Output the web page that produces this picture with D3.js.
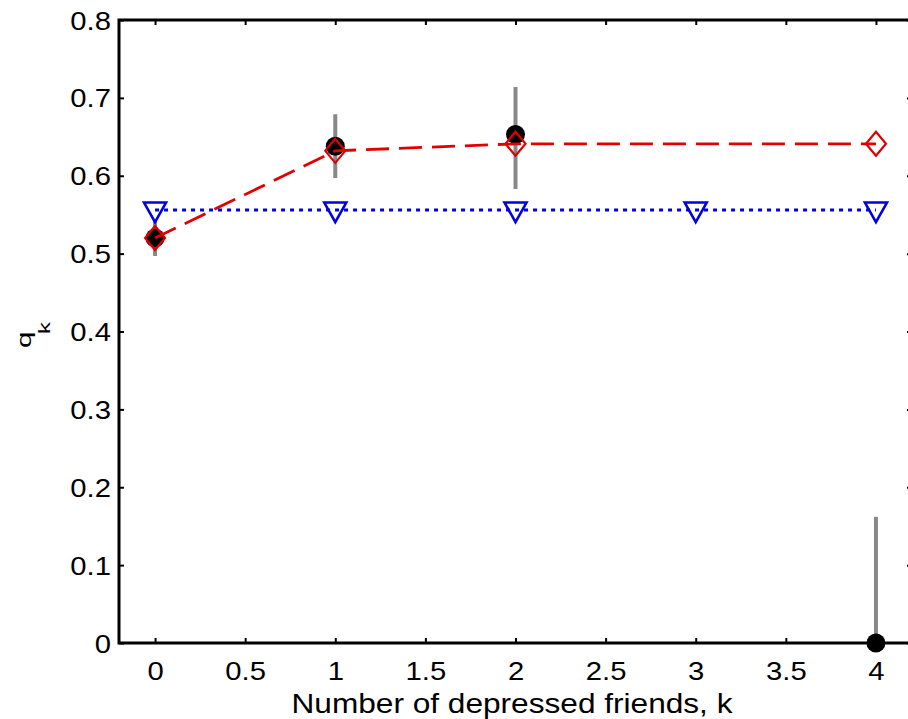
<!DOCTYPE html>
<html>
<head>
<meta charset="utf-8">
<script src="https://cdn.jsdelivr.net/npm/d3@7"></script>
<style>
  body { margin: 0; background: #fff; }
  svg { display: block; }
  text { font-family: "Liberation Sans", Arial, sans-serif; fill: #000; }
</style>
</head>
<body>
<svg id="chart" width="908" height="719"></svg>
<script>
// observed values with error bars
const obsK = [0, 1, 2, 4];
const obsQ = [0.52, 0.638, 0.653, 0.0];
const obsLo = [0.497, 0.597, 0.583, 0.0];
const obsHi = [0.542, 0.679, 0.714, 0.162];

// model fit (red diamonds)
const fitK = [0, 1, 2, 4];
const fitQ = [0.52, 0.632, 0.641, 0.641];

// null model (blue triangles)
const nullK = [0, 1, 2, 3, 4];
const nullQ = [0.556, 0.556, 0.556, 0.556, 0.556];

const xTicks = [0, 0.5, 1, 1.5, 2, 2.5, 3, 3.5, 4];
const yTicks = [0, 0.1, 0.2, 0.3, 0.4, 0.5, 0.6, 0.7, 0.8];

const plot = { left: 119, right: 912, top: 20, bottom: 643 };

const svg = d3.select("#chart");

const x = d3.scaleLinear().domain([-0.2, 4.2]).range([plot.left, plot.right]);
const y = d3.scaleLinear().domain([0, 0.8]).range([plot.bottom, plot.top]);

// the reference font is wider than Liberation Sans, stretch along the advance
function widen(sel, k) {
  sel.each(function () {
    const w = this.getComputedTextLength();
    d3.select(this).attr("textLength", w * k).attr("lengthAdjust", "spacingAndGlyphs");
  });
}

// axes: ticks point inward on all four sides
const fmt = d => d3.format("")(+d.toFixed(1));
const tick = 5;

const gBottom = svg.append("g").attr("transform", `translate(0,${plot.bottom})`)
  .call(d3.axisBottom(x).tickValues(xTicks).tickSize(-tick).tickFormat(fmt));
const gTop = svg.append("g").attr("transform", `translate(0,${plot.top})`)
  .call(d3.axisTop(x).tickValues(xTicks).tickSize(-tick).tickFormat(""));
const gLeft = svg.append("g").attr("transform", `translate(${plot.left},0)`)
  .call(d3.axisLeft(y).tickValues(yTicks).tickSize(-tick).tickFormat(fmt));
const gRight = svg.append("g").attr("transform", `translate(${plot.right},0)`)
  .call(d3.axisRight(y).tickValues(yTicks).tickSize(-tick).tickFormat(""));

[gBottom, gTop, gLeft, gRight].forEach(g => {
  g.select(".domain").remove();
  g.selectAll(".tick line").attr("stroke", "#000").attr("stroke-width", 2);
  g.selectAll(".tick text").attr("font-size", 25).attr("fill", "#111");
});
gBottom.selectAll(".tick text").attr("y", 37).attr("dy", 0);
gLeft.selectAll(".tick text").attr("x", -8).attr("dy", "0.36em");
widen(gBottom.selectAll(".tick text"), 1.17);
widen(gLeft.selectAll(".tick text"), 1.17);

// box
svg.append("rect")
  .attr("x", plot.left).attr("y", plot.top)
  .attr("width", plot.right - plot.left).attr("height", plot.bottom - plot.top)
  .attr("fill", "none").attr("stroke", "#000").attr("stroke-width", 3);

// error bars
svg.append("g").selectAll("line").data(obsK).join("line")
  .attr("x1", d => x(d)).attr("x2", d => x(d))
  .attr("y1", (d, i) => y(obsLo[i])).attr("y2", (d, i) => y(obsHi[i]))
  .attr("stroke", "#888").attr("stroke-width", 4);

// observed points
svg.append("g").selectAll("circle").data(obsK).join("circle")
  .attr("cx", d => x(d)).attr("cy", (d, i) => y(obsQ[i]))
  .attr("r", 9.5).attr("fill", "#000");

// fitted line
const lineFit = d3.line().x((d, i) => x(d)).y((d, i) => y(fitQ[i]));
svg.append("path").datum(fitK)
  .attr("d", lineFit)
  .attr("fill", "none").attr("stroke", "#e00000").attr("stroke-width", 2.8)
  .attr("stroke-dasharray", "23 10");

svg.append("g").selectAll("path").data(fitK).join("path")
  .attr("transform", (d, i) => `translate(${x(d)},${y(fitQ[i])})`)
  .attr("d", "M0,-12L10,0L0,12L-10,0Z")
  .attr("fill", "none").attr("stroke", "#e00000").attr("stroke-width", 2.2);

// null model line
const lineNull = d3.line().x((d, i) => x(d)).y((d, i) => y(nullQ[i]));
svg.append("path").datum(nullK)
  .attr("d", lineNull)
  .attr("fill", "none").attr("stroke", "#0000e0").attr("stroke-width", 3)
  .attr("stroke-dasharray", "4 5");

svg.append("g").selectAll("path").data(nullK).join("path")
  .attr("transform", (d, i) => `translate(${x(d)},${y(nullQ[i])})`)
  .attr("d", "M-11,-7.5L11,-7.5L0,12Z")
  .attr("fill", "none").attr("stroke", "#0000e0").attr("stroke-width", 2.6);

// labels
const xl = svg.append("text")
  .attr("x", 512).attr("y", 713)
  .attr("text-anchor", "middle").attr("font-size", 27.5).attr("fill", "#111")
  .text("Number of depressed friends, k");
xl.attr("textLength", 441).attr("lengthAdjust", "spacingAndGlyphs");

const yq = svg.append("text")
  .attr("transform", "translate(31,348) rotate(-90)")
  .attr("font-size", 21).attr("fill", "#111").text("q");
widen(yq, 1.4);
const yk = svg.append("text")
  .attr("transform", "translate(49.5,334) rotate(-90)")
  .attr("font-size", 17).attr("fill", "#111").text("k");
widen(yk, 1.4);
</script>
</body>
</html>
